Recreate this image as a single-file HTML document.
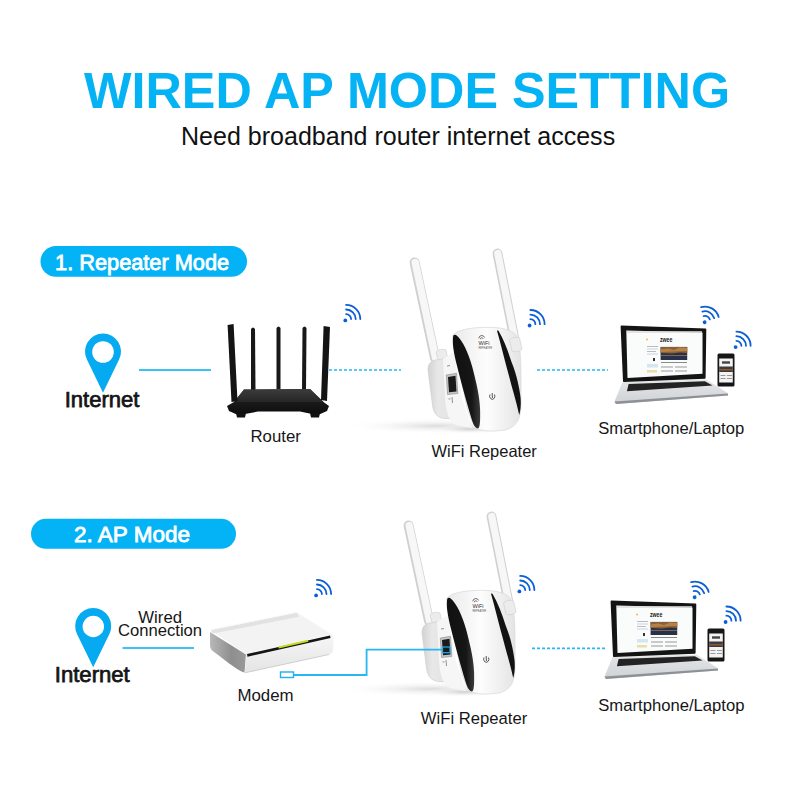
<!DOCTYPE html>
<html><head><meta charset="utf-8">
<style>
html,body{margin:0;padding:0;background:#fff;}
body{width:800px;height:800px;overflow:hidden;}
svg{display:block;}
text{font-family:"Liberation Sans",sans-serif;}
</style></head>
<body>
<svg width="800" height="800" viewBox="0 0 800 800">
<defs>
  <g id="wifi">
    <circle cx="0" cy="0" r="1.9" fill="#0b5fd6"/>
    <path d="M0.8,-6.3 A5,5 0 0 1 5.8,-1.3 M0.8,-10.9 A9.6,9.6 0 0 1 10.4,-1.3 M0.8,-15.5 A14.2,14.2 0 0 1 15,-1.3" fill="none" stroke="#0b5fd6" stroke-width="1.8" stroke-linecap="round"/>
  </g>
  <linearGradient id="shadowG" x1="0" y1="0" x2="0" y2="1">
    <stop offset="0" stop-color="#d8d8d8"/><stop offset="1" stop-color="#fff"/>
  </linearGradient>
  <radialGradient id="shadowR" cx="0.5" cy="0.5" r="0.5">
    <stop offset="0" stop-color="#cfcfcf"/><stop offset="1" stop-color="#fff" stop-opacity="0"/>
  </radialGradient>
  <linearGradient id="bodyG" x1="0" y1="0" x2="1" y2="0">
    <stop offset="0" stop-color="#e9e9e9"/><stop offset="0.5" stop-color="#fdfdfd"/><stop offset="1" stop-color="#e4e4e4"/>
  </linearGradient>
  <linearGradient id="sideG" x1="0" y1="0" x2="1" y2="0">
    <stop offset="0" stop-color="#d2d2d2"/><stop offset="0.35" stop-color="#e8e8e8"/><stop offset="1" stop-color="#e2e2e2"/>
  </linearGradient>
  <linearGradient id="routerG" x1="0" y1="0" x2="0" y2="1">
    <stop offset="0" stop-color="#2c2c2c"/><stop offset="0.5" stop-color="#1a1a1a"/><stop offset="1" stop-color="#0c0c0c"/>
  </linearGradient>
  <linearGradient id="baseG" x1="0" y1="0" x2="0" y2="1">
    <stop offset="0" stop-color="#e4e6e8"/><stop offset="1" stop-color="#cfd2d5"/>
  </linearGradient>

  <!-- repeater (row1 coords) -->
  <g id="repeater">
    <ellipse cx="438" cy="426" rx="95" ry="8" fill="url(#shadowR)" opacity="0.75"/>
    <ellipse cx="470" cy="429" rx="40" ry="5" fill="url(#shadowR)"/>
    <!-- left antenna -->
    <line x1="414.6" y1="262.5" x2="435" y2="358" stroke="#d0d0d0" stroke-width="10" stroke-linecap="round"/>
    <line x1="415.2" y1="262.5" x2="435.6" y2="358" stroke="#f7f7f7" stroke-width="7.4" stroke-linecap="round"/>
    <!-- right antenna -->
    <line x1="497.5" y1="253.5" x2="515" y2="342" stroke="#d0d0d0" stroke-width="9.8" stroke-linecap="round"/>
    <line x1="497.8" y1="253.5" x2="515.3" y2="342" stroke="#f7f7f7" stroke-width="7.2" stroke-linecap="round"/>
    <!-- joints -->
    <path d="M436,352 C438,349.5 443,348.5 446,350 L448,359.5 C446,362 440,362.5 438.5,361 Z" fill="#ececec" stroke="#cdcdcd" stroke-width="0.6"/>
    <!-- side panel -->
    <path d="M436,360 C430.5,361 428,364 428,370 L432.5,405 C433.5,413 437,418 445,418.5 L457,419 L449,358 Z" fill="url(#sideG)" stroke="#d0d0d0" stroke-width="0.7"/>
    <!-- shell side strip -->
    <path d="M443,359 L454,352 L462,398 L472,428 L456,425 C449,422 446,412 445,398 Z" fill="#f6f6f6"/>
    <!-- back shell -->
    <path d="M452.5,336 C456,330 470,327.5 486,327.3 C500,327.2 511,329 516,335 C520,343 521,358 521,378 L521,404 C521,418 517,426 507,429.5 C498,431.5 486,431.5 479,429.5 C474,428 471,420 467,408 Z" fill="url(#bodyG)" stroke="#d8d8d8" stroke-width="0.7"/>
    <!-- right black strip -->
    <path d="M496.9,330.6 C499,337 503,354 508.75,375 C512,388 516,400 519.2,415 C520.8,410 521,404 520.6,398 C519.5,388 516.5,374 511.5,362 C508,351 504,340 498.5,330.8 Z" fill="#121212"/>
    <path d="M509.5,340 C511,337.5 517,336.5 519.5,338 L522,349 C520,351.5 514,352.5 512,351 Z" fill="#ececec" stroke="#cdcdcd" stroke-width="0.6"/>
    <!-- black crescent -->
    <path d="M453.4,335.5 C452,341 453,350 457.3,367 C461,382 466,400 471.6,419 C473,424 475.5,428.5 478,428.5 C480,428 480.3,422 480.1,410 C479.8,398 477,385 472.3,367 C468,352 463,341 456.7,335.5 C455.5,334.5 454,334.5 453.4,335.5 Z" fill="url(#crescG)"/>
    <!-- port -->
    <path d="M446.3,375 L456.5,373.3 L457.8,393.5 L447.5,394.5 Z" fill="#c4c4c4" stroke="#8a8a8a" stroke-width="0.6"/>
    <path d="M448,377 L455.5,375.8 L456.5,391.5 L449,392.3 Z" fill="#1a1a1a"/>
    <path d="M447,366 L450,365.5 M452,397 L452.5,403 M448.5,399 L450.5,398.8" stroke="#777" stroke-width="0.8"/>
    <!-- logo -->
    <path d="M478.8,338.3 A3,3 0 0 1 484.6,337.5 M480.3,339.2 A1.5,1.5 0 0 1 483.2,338.8" fill="none" stroke="#444" stroke-width="0.8"/>
    <text x="484" y="345.3" font-size="5.6" fill="#333" text-anchor="middle" font-family="Liberation Serif">WiFi</text>
    <text x="485.3" y="348.7" font-size="2.6" fill="#555" text-anchor="middle">REPEATER</text>
    <path d="M490,394.5 A2.6,3.2 0 1 0 494.5,394.5 M492.2,393 L492.4,398" fill="none" stroke="#444" stroke-width="0.9"/>
  </g>

  <!-- laptop + phone (row1 coords) -->
  <g id="laptop">
    <!-- base -->
    <path d="M622.5,382 L706.5,379.5 L727.5,393 L728,395.5 L616,404 L614.5,401.5 Z" fill="url(#baseG)"/>
    <path d="M614.5,401.5 L728,393.5 L728,395.5 L616,404 Z" fill="#8d9196"/>
    <path d="M628.6,384 L704.8,381.2 L712.6,385.6 L626.9,391.3 Z" fill="#232323"/>
    <!-- bezel -->
    <path d="M621.4,326.4 L705.5,329.4 L704.8,378 L623.8,381.1 Z" fill="#141414" stroke="#141414" stroke-width="1.6" stroke-linejoin="round"/>
    <!-- screen -->
    <path d="M626.3,330.6 L702.5,332.5 L702.5,373.8 L627.5,378 Z" fill="#fafbfb"/>
    <text x="666.2" y="341.8" font-size="7.2" font-weight="bold" font-family="Liberation Serif" fill="#1a1a1a" text-anchor="middle" textLength="12.5" lengthAdjust="spacingAndGlyphs">zwee</text>
    <rect x="627" y="331.2" width="75" height="1.6" fill="#dcdcdc"/>
    <rect x="660.6" y="346.9" width="26.6" height="13.1" fill="#28304a"/>
    <path d="M660.6,346.9 L687.2,346.9 L687.2,353 L680,352.5 L672,353.5 L660.6,353 Z" fill="#8a6038"/>
    <path d="M660.6,349.5 L668,348.5 L674,350 L680,347.5 L687.2,348 L687.2,351 L660.6,352 Z" fill="#c08848" opacity="0.85"/>
    <rect x="661" y="355" width="26" height="1" fill="#a08050" opacity="0.7"/>
    <circle cx="647" cy="339.4" r="1" fill="#f0c020"/>
    <rect x="647" y="346" width="11" height="1" fill="#b8bcc4"/>
    <rect x="647" y="348.5" width="11" height="1" fill="#c8d4e0"/>
    <rect x="647" y="351" width="9" height="1" fill="#b8bcc4"/>
    <rect x="647" y="353.5" width="11" height="1" fill="#c8d4e0"/>
    <rect x="653" y="358" width="2" height="3" fill="#333"/>
    <rect x="647" y="364" width="11" height="3.5" fill="#d4e6f0"/>
    <rect x="647" y="370" width="10" height="2.5" fill="#ecdca8"/>
    <rect x="661" y="362" width="26" height="1" fill="#8a8a8a"/>
    <rect x="661" y="366.5" width="12" height="1" fill="#9a9a9a"/>
    <rect x="675" y="366.5" width="12" height="1" fill="#9a9a9a"/>
    <rect x="661" y="370.5" width="12" height="1" fill="#9a9a9a"/>
    <rect x="675" y="370.5" width="12" height="1" fill="#9a9a9a"/>
    <!-- phone -->
    <path d="M717.5,355 Q717.5,353.5 719,353.5 L733,353.5 Q734.5,353.5 734.5,355 L734.5,385 Q734.5,386.5 733,386.5 L719,386.5 Q717.5,386.5 717.5,385 Z" fill="#161616"/>
    <rect x="719.2" y="358.5" width="13.6" height="24" fill="#f3f3f3"/>
    <rect x="722" y="361.3" width="8" height="2.4" fill="#444"/>
    <rect x="719.2" y="366.5" width="13.6" height="5.5" fill="#3d3a40"/>
    <rect x="719.2" y="369" width="13.6" height="1.5" fill="#8a5a2a"/>
    <rect x="720.5" y="375" width="5" height="1" fill="#999"/>
    <rect x="727" y="375" width="5" height="1" fill="#999"/>
    <rect x="720.5" y="378" width="5" height="1" fill="#999"/>
    <rect x="727" y="378" width="5" height="1" fill="#999"/>
  </g>
  <linearGradient id="modemSide" x1="0" y1="0" x2="1" y2="0">
    <stop offset="0" stop-color="#b8b8b8"/><stop offset="0.6" stop-color="#8e8e8e"/><stop offset="1" stop-color="#9a9a9a"/>
  </linearGradient>
  <linearGradient id="modemFront" x1="0" y1="0" x2="0" y2="1">
    <stop offset="0" stop-color="#f7f7f7"/><stop offset="1" stop-color="#e4e4e4"/>
  </linearGradient>
  <linearGradient id="crescG" x1="0" y1="0" x2="1" y2="0">
    <stop offset="0" stop-color="#101010"/><stop offset="0.7" stop-color="#161616"/><stop offset="1" stop-color="#3a3a3a"/>
  </linearGradient>
  <linearGradient id="routerTop" x1="0" y1="0" x2="0" y2="1">
    <stop offset="0" stop-color="#3c3c3c"/><stop offset="1" stop-color="#262626"/>
  </linearGradient>
</defs>

<!-- Title -->
<text x="84" y="107.5" font-size="50.35" font-weight="bold" fill="#05b3f5">WIRED AP MODE SETTING</text>
<text x="181" y="144.5" font-size="25.04" fill="#111">Need broadband router internet access</text>

<!-- Pill 1 -->
<rect x="40.5" y="246" width="206.5" height="30.8" rx="15.4" fill="#03b3f6"/>
<text x="55.05" y="269.5" font-size="21.76" fill="#fff" stroke="#fff" stroke-width="0.8">1. Repeater Mode</text>

<!-- Pill 2 -->
<rect x="31" y="518.8" width="205" height="30" rx="15" fill="#03b3f6"/>
<text x="74.07" y="542" font-size="22.53" fill="#fff" stroke="#fff" stroke-width="0.8">2. AP Mode</text>

<!-- Row 1 -->
<path d="M103,392.7 L86.81,359.36 A18,18 0 1 1 119.19,359.36 Z" fill="#05aaf0"/>
<circle cx="103" cy="352" r="10.8" fill="#fff"/>
<text x="64.7" y="406.6" font-size="22.04" fill="#151515" stroke="#151515" stroke-width="0.75">Internet</text>
<line x1="139" y1="370" x2="211" y2="370" stroke="#3cc3f6" stroke-width="2"/>

<!-- router -->
<g id="router">
  <path d="M251,329 Q253,326 255,329 L255.5,390 L251,390 Z" fill="#181818"/>
  <path d="M276.5,328 Q278.5,325 280.5,328 L280.5,389 L276.5,389 Z" fill="#181818"/>
  <path d="M302.5,328 Q304.5,325 306.5,328 L306,390 L302,390 Z" fill="#181818"/>
  <path d="M244,389.5 L310,389 L323.5,402 L329,406 L327,411 L318,415 L312,414 L300,411.5 L258,411.5 L245,414 L238,415 L229,411 L227,406 L234,402 Z" fill="url(#routerG)"/>
  <path d="M244,389.5 L310,389 L323.5,402 L234,402 Z" fill="url(#routerTop)"/>
  <path d="M236,413 L246,413 L245,417.5 L237,417.5 Z M310,413 L320,413 L319,417.5 L311,417.5 Z" fill="#111"/>
  <path d="M227.6,325 L233.6,324 L237.5,401 L231.5,402 Z" fill="#141414"/>
  <path d="M323.6,326 L330,327 L327,401 L321,400 Z" fill="#141414"/>
</g>
<text x="250.46" y="441.8" font-size="16.79" fill="#161616">Router</text>

<line x1="329" y1="370" x2="401" y2="370" stroke="#29b6f6" stroke-width="1.6" stroke-dasharray="3 2"/>
<line x1="537" y1="370" x2="608" y2="370" stroke="#29b6f6" stroke-width="1.6" stroke-dasharray="3 2"/>

<use href="#repeater"/>
<text x="431.43" y="457" font-size="16.51" fill="#161616">WiFi Repeater</text>
<use href="#laptop"/>
<text x="598.27" y="434" font-size="16.61" fill="#161616">Smartphone/Laptop</text>

<use href="#wifi" transform="translate(345.3,320.4)"/>
<use href="#wifi" transform="translate(529.6,325.5)"/>
<use href="#wifi" transform="translate(704.6,322.3) rotate(-16)"/>
<use href="#wifi" transform="translate(735.6,347.1)"/>

<!-- Row 2 -->
<path d="M93.2,667.3 L77.01,633.96 A18,18 0 1 1 109.39,633.96 Z" fill="#05aaf0"/>
<circle cx="93.3" cy="626.5" r="10.7" fill="#fff"/>
<text x="54.8" y="682.3" font-size="22.1" fill="#151515" stroke="#151515" stroke-width="0.75">Internet</text>
<text x="138.33" y="623.1" font-size="16.73" fill="#161616">Wired</text>
<text x="117.92" y="636.25" font-size="16.65" fill="#161616">Connection</text>
<line x1="122.5" y1="648" x2="194" y2="648" stroke="#3cc3f6" stroke-width="2"/>

<!-- modem -->
<g id="modem">
  <path d="M210,632 L246,654.5 L244.5,672.5 C240,672 230,664 214,652 C211,650 210,648 210,645 Z" fill="url(#modemSide)"/>
  <path d="M211,630 L297,612.6 L331,634 L246,654.5 Z" fill="#f3f3f3"/>
  <path d="M211,630 L297,612.6 L299,616.8 L213,633.5 Z" fill="#e2e2e2"/>
  <path d="M211,629.6 L297,612.2" stroke="#f9f9f9" stroke-width="1"/>
  <path d="M246,654.5 L331,634 C333,635 333.5,637 333.5,640 L333,651 C332.5,653 331,654 329,654.5 L245,672.8 Z" fill="url(#modemFront)"/>
  <path d="M247,654 L330,635.5 L330.5,638 L247.5,656.8 Z" fill="#141414"/>
  <path d="M278.4,646.5 L308,639.8 L308.3,641.8 L278.7,648.5 Z" fill="#c6dc1e"/>
  <path d="M245,672.8 L329,654.5" stroke="#c4c4c4" stroke-width="0.8"/>
</g>
<rect x="280.5" y="672" width="13" height="5.5" fill="#fff" stroke="#1fb0f0" stroke-width="1.4"/>
<text x="237.4" y="701" font-size="16.87" fill="#161616">Modem</text>

<line x1="532" y1="648.4" x2="606" y2="648.4" stroke="#29b6f6" stroke-width="1.6" stroke-dasharray="3 2"/>

<use href="#repeater" transform="translate(-6,263)"/>
<polyline points="294,675 366.6,675 366.6,649.7 443,649.7" fill="none" stroke="#29b6f6" stroke-width="1.8"/>
<rect x="442.5" y="647" width="7.5" height="5.7" fill="none" stroke="#1fb0f0" stroke-width="1.2"/>
<text x="420.83" y="723.6" font-size="16.67" fill="#161616">WiFi Repeater</text>
<use href="#laptop" transform="translate(-10,275)"/>
<text x="598.27" y="711.4" font-size="16.65" fill="#161616">Smartphone/Laptop</text>

<use href="#wifi" transform="translate(316.1,595.4)"/>
<use href="#wifi" transform="translate(519.4,591.4)"/>
<use href="#wifi" transform="translate(694.6,597.3) rotate(-16)"/>
<use href="#wifi" transform="translate(725.6,622)"/>
</svg>
</body></html>
